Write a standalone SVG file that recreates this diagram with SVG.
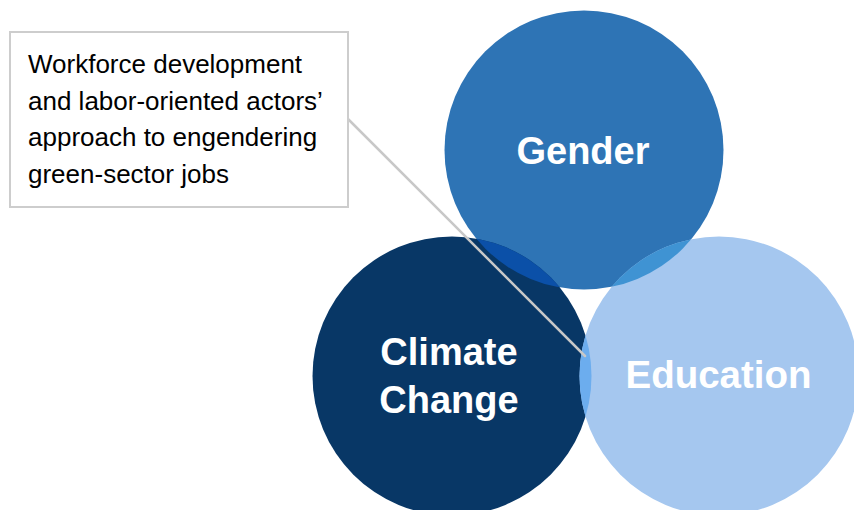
<svg xmlns="http://www.w3.org/2000/svg" width="854" height="510" viewBox="0 0 854 510">
<style>
.lbl{font-family:"Liberation Sans",Arial,sans-serif;font-weight:bold;font-size:38px;fill:#ffffff;text-anchor:middle}
.note{font-family:"Liberation Sans",Arial,sans-serif;font-size:26px;fill:#000000}
</style>
<defs>
<clipPath id="cpG"><circle cx="584" cy="150" r="139.5"/></clipPath>
<clipPath id="cpC"><circle cx="452" cy="376" r="139.5"/></clipPath>
<clipPath id="cpE"><circle cx="719" cy="376" r="139.5"/></clipPath>
</defs>
<rect width="854" height="510" fill="#ffffff"/>
<g id="gender">
<circle cx="584" cy="150" r="139.5" fill="#2E74B5"/>
</g>
<g id="climate">
<circle cx="452" cy="376" r="139.5" fill="#083766"/>
</g>
<g id="education">
<circle cx="719" cy="376" r="139.5" fill="#A5C7EF"/>
</g>
<g id="overlaps">
<g clip-path="url(#cpG)"><circle cx="452" cy="376" r="139.5" fill="#0B50A8"/></g>
<g clip-path="url(#cpG)"><circle cx="719" cy="376" r="139.5" fill="#3F93D3"/></g>
<g clip-path="url(#cpC)"><circle cx="719" cy="376" r="139.5" fill="#6CADEE"/></g>
</g>
<g id="labels">
<text class="lbl" x="583" y="164">Gender</text>
<text class="lbl" x="449" y="365">Climate</text>
<text class="lbl" x="449" y="413">Change</text>
<text class="lbl" x="718.5" y="388" style="font-size:38.5px">Education</text>
</g>
<g id="connectors">
<line x1="348" y1="119" x2="585" y2="356" stroke="#C8C8C8" stroke-width="2.5" stroke-linecap="round"/>
</g>
<g id="note">
<rect x="10" y="32" width="338" height="175" fill="#ffffff" stroke="#CDCDCD" stroke-width="2"/>
<text class="note" x="28" y="73">Workforce development</text>
<text class="note" x="28" y="109.5">and labor-oriented actors’</text>
<text class="note" x="28" y="146">approach to engendering</text>
<text class="note" x="28" y="182.5">green-sector jobs</text>
</g>
</svg>
